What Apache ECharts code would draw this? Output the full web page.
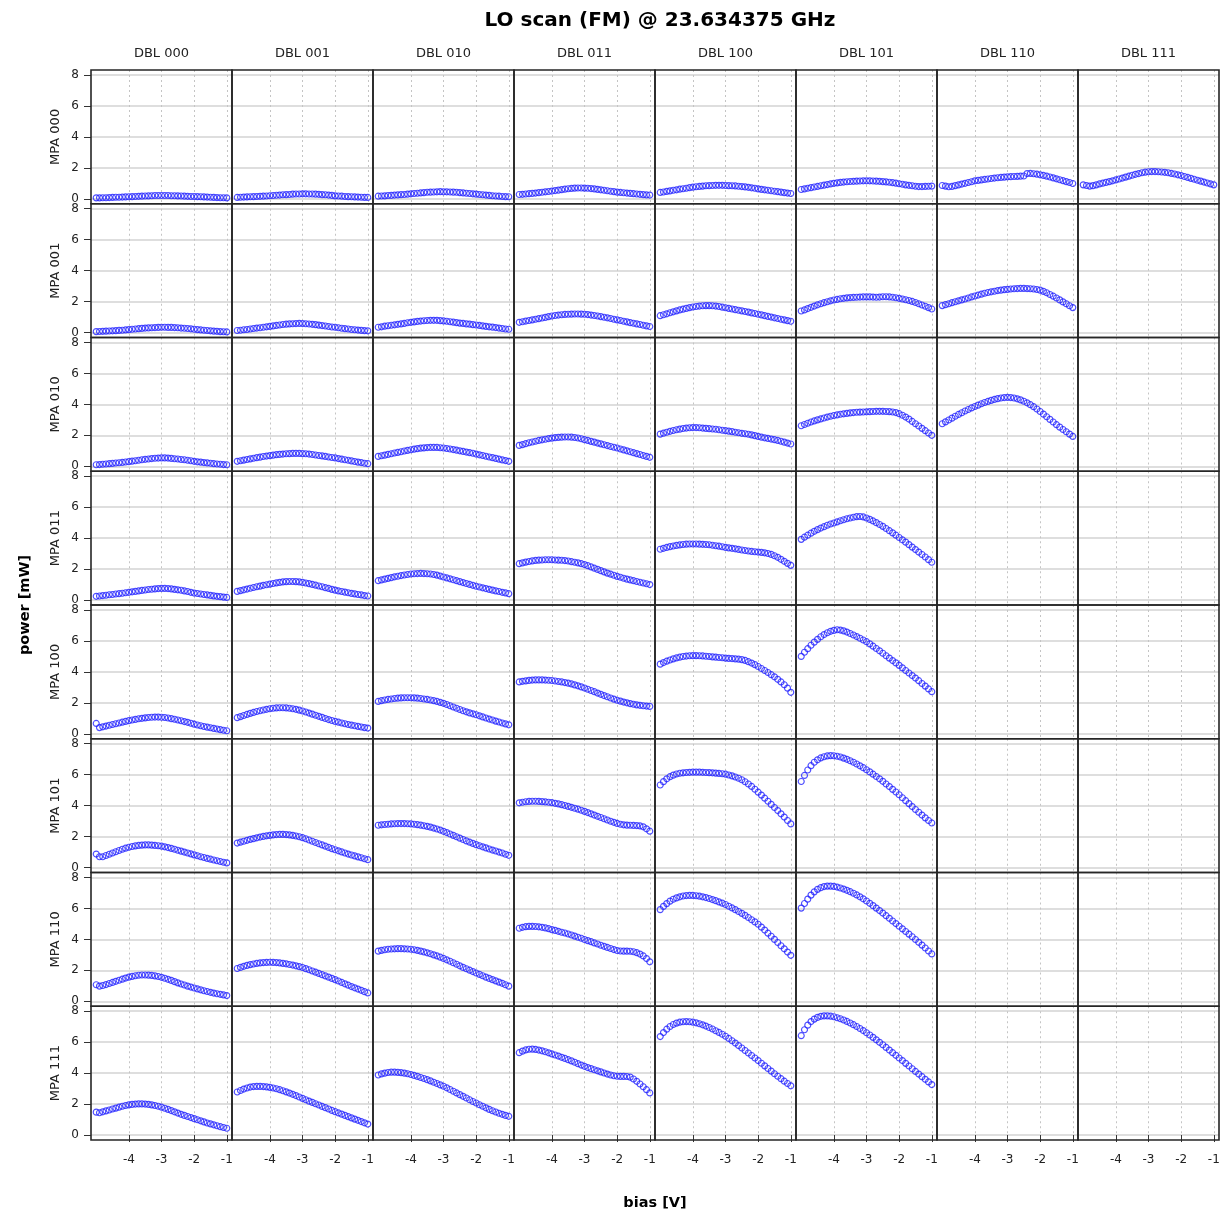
<!DOCTYPE html>
<html>
<head>
<meta charset="utf-8">
<title>LO scan (FM) @ 23.634375 GHz</title>
<script src="https://cdn.jsdelivr.net/npm/echarts@6/dist/echarts.min.js"></script>
<style>
  html, body { margin: 0; padding: 0; background: #ffffff; }
  #chart { width: 1227px; height: 1219px; }
</style>
</head>
<body>
<div id="chart"></div>
<script>
// Bias sweep (V), shared by every panel
const bias = [-5.0,-4.9,-4.8,-4.7,-4.6,-4.5,-4.4,-4.3,-4.2,-4.1,
              -4.0,-3.9,-3.8,-3.7,-3.6,-3.5,-3.4,-3.3,-3.2,-3.1,
              -3.0,-2.9,-2.8,-2.7,-2.6,-2.5,-2.4,-2.3,-2.2,-2.1,
              -2.0,-1.9,-1.8,-1.7,-1.6,-1.5,-1.4,-1.3,-1.2,-1.1,
              -1.0];

const dblLabels = ['DBL 000','DBL 001','DBL 010','DBL 011','DBL 100','DBL 101','DBL 110','DBL 111'];
const mpaLabels = ['MPA 000','MPA 001','MPA 010','MPA 011','MPA 100','MPA 101','MPA 110','MPA 111'];
const xTickValues = [-4, -3, -2, -1];
const yTickValues = [0, 2, 4, 6, 8];

// Output power (mW) per MPA / DBL setting
const m000_d000 = [0.06,0.06,0.07,0.07,0.08,0.09,0.10,0.10,0.11,0.12,0.13,0.14,0.15,0.16,0.17,0.18,0.19,0.20,0.21,0.21,0.21,0.21,0.21,0.20,0.20,0.19,0.18,0.17,0.16,0.15,0.15,0.14,0.13,0.12,0.11,0.10,0.09,0.08,0.07,0.07,0.06];
const m000_d001 = [0.09,0.10,0.11,0.12,0.13,0.14,0.15,0.16,0.17,0.18,0.20,0.21,0.23,0.24,0.26,0.27,0.28,0.30,0.31,0.31,0.32,0.32,0.31,0.31,0.30,0.29,0.27,0.26,0.24,0.22,0.19,0.18,0.17,0.15,0.14,0.13,0.12,0.11,0.10,0.09,0.09];
const m000_d010 = [0.17,0.18,0.19,0.21,0.22,0.24,0.25,0.27,0.28,0.30,0.32,0.34,0.36,0.38,0.40,0.42,0.43,0.44,0.45,0.46,0.45,0.45,0.44,0.43,0.42,0.40,0.38,0.36,0.34,0.32,0.30,0.28,0.26,0.24,0.22,0.20,0.18,0.17,0.15,0.14,0.13];
const m000_d011 = [0.28,0.29,0.31,0.33,0.35,0.37,0.40,0.42,0.45,0.47,0.50,0.53,0.56,0.59,0.62,0.65,0.67,0.69,0.70,0.70,0.69,0.68,0.66,0.64,0.61,0.58,0.55,0.52,0.49,0.46,0.43,0.41,0.39,0.37,0.35,0.33,0.31,0.29,0.27,0.25,0.24];
const m000_d100 = [0.41,0.44,0.48,0.51,0.55,0.58,0.62,0.65,0.68,0.72,0.75,0.78,0.80,0.82,0.84,0.85,0.86,0.87,0.87,0.87,0.86,0.85,0.84,0.83,0.81,0.79,0.77,0.74,0.71,0.68,0.64,0.61,0.58,0.55,0.52,0.49,0.46,0.43,0.40,0.37,0.34];
const m000_d101 = [0.60,0.64,0.68,0.72,0.76,0.80,0.84,0.88,0.92,0.96,1.00,1.03,1.06,1.08,1.10,1.12,1.13,1.14,1.15,1.16,1.16,1.16,1.15,1.14,1.13,1.11,1.09,1.07,1.04,1.01,0.97,0.94,0.90,0.87,0.84,0.81,0.79,0.79,0.80,0.81,0.82];
const m000_d110 = [0.86,0.82,0.78,0.80,0.85,0.90,0.95,1.00,1.05,1.10,1.16,1.19,1.22,1.25,1.28,1.31,1.34,1.36,1.38,1.40,1.42,1.43,1.44,1.45,1.46,1.47,1.63,1.64,1.62,1.59,1.55,1.51,1.46,1.41,1.35,1.29,1.23,1.17,1.11,1.05,0.99];
const m000_d111 = [0.90,0.86,0.82,0.85,0.90,0.96,1.01,1.06,1.11,1.16,1.22,1.28,1.34,1.40,1.46,1.52,1.58,1.63,1.68,1.72,1.75,1.76,1.76,1.75,1.73,1.71,1.68,1.64,1.60,1.55,1.50,1.44,1.38,1.32,1.26,1.20,1.14,1.08,1.02,0.96,0.90];

const m001_d000 = [0.06,0.07,0.08,0.09,0.10,0.11,0.12,0.14,0.15,0.17,0.19,0.21,0.23,0.25,0.27,0.29,0.30,0.31,0.32,0.33,0.34,0.34,0.33,0.33,0.32,0.31,0.29,0.28,0.26,0.24,0.21,0.19,0.17,0.15,0.13,0.11,0.09,0.08,0.06,0.05,0.04];
const m001_d001 = [0.13,0.15,0.18,0.20,0.23,0.26,0.29,0.31,0.34,0.37,0.40,0.43,0.46,0.49,0.52,0.54,0.56,0.57,0.58,0.59,0.58,0.57,0.55,0.53,0.51,0.48,0.45,0.42,0.39,0.36,0.34,0.31,0.28,0.25,0.23,0.20,0.18,0.16,0.14,0.12,0.11];
const m001_d010 = [0.34,0.37,0.41,0.44,0.47,0.50,0.53,0.56,0.59,0.63,0.66,0.69,0.72,0.74,0.76,0.78,0.79,0.79,0.79,0.77,0.75,0.73,0.70,0.67,0.64,0.61,0.59,0.56,0.54,0.51,0.49,0.46,0.43,0.40,0.37,0.35,0.32,0.29,0.26,0.23,0.21];
const m001_d011 = [0.66,0.70,0.74,0.78,0.82,0.86,0.90,0.94,0.98,1.03,1.07,1.10,1.13,1.15,1.17,1.18,1.19,1.20,1.20,1.19,1.18,1.16,1.13,1.10,1.07,1.03,0.99,0.95,0.91,0.86,0.82,0.78,0.73,0.69,0.64,0.60,0.56,0.52,0.47,0.43,0.39];
const m001_d100 = [1.09,1.15,1.21,1.28,1.34,1.40,1.46,1.51,1.56,1.61,1.65,1.68,1.71,1.73,1.74,1.74,1.73,1.71,1.68,1.64,1.60,1.56,1.52,1.48,1.44,1.40,1.36,1.32,1.27,1.23,1.18,1.14,1.09,1.04,1.00,0.95,0.91,0.86,0.82,0.77,0.73];
const m001_d101 = [1.39,1.46,1.55,1.63,1.71,1.79,1.86,1.93,1.99,2.05,2.10,2.14,2.18,2.21,2.24,2.26,2.27,2.28,2.29,2.30,2.30,2.30,2.29,2.28,2.29,2.31,2.31,2.30,2.28,2.25,2.21,2.17,2.12,2.07,2.01,1.94,1.86,1.78,1.70,1.61,1.52];
const m001_d110 = [1.74,1.80,1.86,1.93,1.99,2.05,2.11,2.17,2.23,2.30,2.36,2.42,2.48,2.54,2.59,2.63,2.67,2.71,2.74,2.77,2.79,2.81,2.83,2.84,2.85,2.85,2.84,2.83,2.81,2.78,2.74,2.66,2.57,2.46,2.35,2.23,2.11,1.98,1.86,1.73,1.61];

const m010_d000 = [0.10,0.11,0.13,0.15,0.17,0.19,0.21,0.23,0.25,0.28,0.30,0.33,0.36,0.39,0.42,0.45,0.47,0.50,0.52,0.53,0.54,0.54,0.53,0.51,0.49,0.47,0.44,0.42,0.39,0.36,0.32,0.29,0.27,0.24,0.22,0.20,0.17,0.15,0.13,0.11,0.10];
const m010_d001 = [0.32,0.36,0.40,0.44,0.48,0.52,0.56,0.59,0.63,0.66,0.69,0.72,0.75,0.77,0.79,0.81,0.82,0.83,0.83,0.83,0.82,0.81,0.79,0.76,0.73,0.70,0.67,0.64,0.60,0.57,0.54,0.50,0.46,0.42,0.39,0.35,0.31,0.27,0.24,0.20,0.17];
const m010_d010 = [0.64,0.68,0.72,0.77,0.81,0.86,0.90,0.94,0.99,1.03,1.07,1.11,1.14,1.17,1.19,1.21,1.22,1.22,1.22,1.20,1.18,1.15,1.12,1.08,1.04,1.00,0.96,0.92,0.88,0.84,0.79,0.74,0.70,0.65,0.60,0.56,0.51,0.46,0.41,0.37,0.32];
const m010_d011 = [1.35,1.40,1.46,1.52,1.57,1.62,1.67,1.71,1.75,1.79,1.82,1.85,1.87,1.88,1.89,1.89,1.88,1.86,1.83,1.78,1.72,1.67,1.61,1.56,1.50,1.45,1.39,1.34,1.28,1.23,1.18,1.12,1.06,1.00,0.94,0.88,0.82,0.76,0.70,0.64,0.58];
const m010_d100 = [2.08,2.14,2.20,2.26,2.31,2.36,2.40,2.44,2.47,2.49,2.50,2.50,2.49,2.47,2.45,2.43,2.41,2.39,2.36,2.33,2.30,2.27,2.24,2.20,2.17,2.13,2.10,2.07,2.03,1.98,1.93,1.88,1.84,1.80,1.76,1.72,1.67,1.62,1.56,1.50,1.44];
const m010_d101 = [2.62,2.70,2.78,2.86,2.93,3.00,3.06,3.12,3.18,3.23,3.28,3.32,3.36,3.39,3.42,3.45,3.47,3.49,3.50,3.51,3.52,3.53,3.54,3.55,3.55,3.55,3.54,3.53,3.51,3.47,3.40,3.30,3.18,3.05,2.90,2.75,2.60,2.45,2.30,2.15,2.00];
const m010_d110 = [2.75,2.87,2.99,3.11,3.23,3.35,3.46,3.57,3.67,3.77,3.86,3.95,4.04,4.12,4.19,4.26,4.32,4.37,4.41,4.44,4.45,4.44,4.41,4.36,4.29,4.20,4.10,3.98,3.85,3.70,3.54,3.37,3.20,3.03,2.86,2.69,2.53,2.38,2.23,2.08,1.93];

const m011_d000 = [0.24,0.26,0.29,0.31,0.34,0.36,0.39,0.41,0.44,0.47,0.50,0.53,0.56,0.59,0.62,0.65,0.68,0.70,0.72,0.74,0.75,0.75,0.74,0.72,0.69,0.66,0.63,0.59,0.55,0.50,0.45,0.42,0.39,0.36,0.33,0.30,0.27,0.24,0.22,0.19,0.17];
const m011_d001 = [0.56,0.61,0.66,0.71,0.76,0.81,0.86,0.90,0.95,0.99,1.03,1.07,1.11,1.14,1.17,1.19,1.20,1.20,1.19,1.17,1.14,1.10,1.06,1.01,0.96,0.91,0.86,0.80,0.75,0.69,0.64,0.59,0.55,0.51,0.47,0.43,0.40,0.36,0.33,0.29,0.26];
const m011_d010 = [1.25,1.30,1.35,1.40,1.45,1.50,1.54,1.58,1.62,1.65,1.68,1.70,1.71,1.72,1.71,1.70,1.68,1.65,1.61,1.55,1.49,1.43,1.37,1.31,1.25,1.19,1.13,1.07,1.01,0.95,0.89,0.84,0.79,0.74,0.69,0.64,0.59,0.55,0.50,0.46,0.41];
const m011_d011 = [2.35,2.40,2.45,2.49,2.53,2.56,2.58,2.59,2.60,2.60,2.60,2.59,2.58,2.57,2.55,2.52,2.48,2.44,2.40,2.35,2.29,2.22,2.14,2.06,1.98,1.90,1.82,1.74,1.67,1.60,1.53,1.47,1.41,1.35,1.30,1.25,1.20,1.15,1.10,1.05,1.00];
const m011_d100 = [3.28,3.34,3.40,3.45,3.49,3.53,3.56,3.59,3.61,3.62,3.62,3.62,3.61,3.60,3.59,3.57,3.54,3.51,3.48,3.44,3.40,3.37,3.34,3.31,3.27,3.23,3.20,3.17,3.14,3.12,3.10,3.08,3.05,3.01,2.95,2.86,2.76,2.63,2.50,2.37,2.24];
const m011_d101 = [3.92,4.06,4.19,4.32,4.44,4.55,4.65,4.74,4.83,4.91,4.98,5.05,5.12,5.19,5.25,5.30,5.35,5.39,5.40,5.37,5.30,5.21,5.11,5.00,4.88,4.76,4.62,4.48,4.34,4.19,4.04,3.89,3.74,3.58,3.42,3.26,3.10,2.94,2.78,2.61,2.44];

const m100_d000 = [0.67,0.40,0.45,0.50,0.55,0.60,0.65,0.70,0.75,0.80,0.85,0.89,0.93,0.97,1.00,1.03,1.05,1.07,1.08,1.08,1.07,1.05,1.02,0.98,0.94,0.89,0.84,0.79,0.74,0.68,0.62,0.57,0.52,0.47,0.43,0.39,0.35,0.31,0.27,0.23,0.20];
const m100_d001 = [1.04,1.11,1.18,1.25,1.32,1.38,1.44,1.49,1.54,1.58,1.62,1.65,1.67,1.68,1.68,1.67,1.65,1.62,1.58,1.53,1.47,1.41,1.34,1.27,1.20,1.13,1.06,0.99,0.92,0.86,0.80,0.75,0.70,0.65,0.60,0.56,0.52,0.48,0.44,0.40,0.37];
const m100_d010 = [2.09,2.14,2.18,2.22,2.25,2.28,2.30,2.32,2.33,2.33,2.33,2.32,2.30,2.28,2.25,2.22,2.18,2.14,2.09,2.03,1.97,1.89,1.81,1.73,1.65,1.57,1.49,1.42,1.35,1.29,1.23,1.16,1.09,1.02,0.95,0.89,0.82,0.76,0.70,0.64,0.58];
const m100_d011 = [3.35,3.39,3.42,3.45,3.47,3.48,3.48,3.48,3.47,3.46,3.44,3.41,3.38,3.35,3.31,3.27,3.22,3.16,3.10,3.03,2.96,2.88,2.80,2.72,2.63,2.55,2.47,2.39,2.31,2.24,2.17,2.11,2.05,2.00,1.95,1.91,1.87,1.84,1.81,1.79,1.77];
const m100_d100 = [4.50,4.60,4.69,4.77,4.84,4.90,4.95,4.99,5.02,5.04,5.05,5.05,5.04,5.03,5.01,4.99,4.97,4.95,4.93,4.91,4.89,4.87,4.86,4.84,4.82,4.79,4.74,4.66,4.57,4.47,4.35,4.22,4.09,3.96,3.82,3.68,3.52,3.35,3.17,2.95,2.68];
const m100_d101 = [5.00,5.27,5.50,5.72,5.92,6.10,6.27,6.41,6.53,6.62,6.68,6.72,6.70,6.65,6.57,6.48,6.38,6.28,6.17,6.06,5.95,5.81,5.66,5.51,5.36,5.20,5.04,4.89,4.73,4.58,4.42,4.26,4.09,3.93,3.76,3.60,3.43,3.25,3.08,2.90,2.72];

const m101_d000 = [0.87,0.70,0.70,0.78,0.86,0.94,1.02,1.10,1.18,1.25,1.31,1.36,1.40,1.43,1.45,1.46,1.46,1.45,1.43,1.41,1.38,1.34,1.29,1.24,1.18,1.12,1.06,1.00,0.94,0.88,0.82,0.76,0.70,0.65,0.59,0.54,0.49,0.44,0.39,0.34,0.30];
const m101_d001 = [1.58,1.64,1.70,1.76,1.82,1.87,1.92,1.97,2.01,2.05,2.08,2.11,2.13,2.14,2.14,2.13,2.11,2.08,2.04,1.99,1.93,1.86,1.78,1.70,1.62,1.54,1.46,1.38,1.30,1.22,1.15,1.08,1.01,0.94,0.87,0.81,0.75,0.69,0.63,0.57,0.51];
const m101_d010 = [2.73,2.76,2.78,2.80,2.82,2.83,2.84,2.84,2.84,2.83,2.82,2.80,2.77,2.74,2.70,2.66,2.61,2.55,2.49,2.42,2.34,2.26,2.17,2.08,1.99,1.90,1.81,1.72,1.64,1.56,1.48,1.41,1.34,1.27,1.20,1.13,1.07,1.00,0.94,0.86,0.79];
const m101_d011 = [4.18,4.22,4.25,4.27,4.28,4.28,4.27,4.26,4.24,4.22,4.19,4.15,4.11,4.06,4.01,3.95,3.89,3.83,3.77,3.70,3.63,3.55,3.47,3.39,3.31,3.23,3.15,3.07,2.99,2.92,2.85,2.80,2.76,2.74,2.73,2.72,2.71,2.69,2.63,2.50,2.35];
const m101_d100 = [5.33,5.55,5.73,5.87,5.97,6.04,6.09,6.12,6.14,6.15,6.16,6.16,6.16,6.15,6.14,6.13,6.12,6.10,6.08,6.06,6.03,5.98,5.92,5.85,5.77,5.67,5.54,5.40,5.24,5.06,4.87,4.68,4.48,4.28,4.08,3.88,3.68,3.47,3.26,3.04,2.82];
const m101_d101 = [5.56,5.95,6.30,6.58,6.80,6.96,7.08,7.16,7.21,7.23,7.22,7.19,7.14,7.07,6.99,6.90,6.80,6.69,6.57,6.45,6.32,6.18,6.03,5.88,5.73,5.57,5.40,5.23,5.05,4.88,4.70,4.51,4.32,4.13,3.94,3.75,3.57,3.39,3.21,3.04,2.88];

const m110_d000 = [1.07,0.98,1.02,1.08,1.15,1.22,1.29,1.36,1.43,1.50,1.56,1.61,1.65,1.68,1.70,1.70,1.69,1.67,1.64,1.60,1.55,1.49,1.42,1.35,1.27,1.19,1.12,1.05,0.98,0.92,0.86,0.80,0.74,0.68,0.63,0.58,0.53,0.49,0.45,0.41,0.37];
const m110_d001 = [2.12,2.19,2.26,2.32,2.37,2.41,2.45,2.48,2.50,2.51,2.52,2.51,2.50,2.48,2.45,2.42,2.38,2.34,2.29,2.24,2.18,2.11,2.04,1.96,1.88,1.80,1.72,1.64,1.56,1.48,1.40,1.31,1.22,1.13,1.04,0.95,0.87,0.79,0.71,0.62,0.54];
const m110_d010 = [3.24,3.29,3.33,3.36,3.38,3.39,3.40,3.40,3.39,3.38,3.36,3.33,3.29,3.24,3.19,3.13,3.07,3.00,2.93,2.85,2.77,2.68,2.59,2.49,2.39,2.29,2.19,2.10,2.01,1.92,1.83,1.74,1.65,1.56,1.48,1.40,1.32,1.24,1.16,1.07,0.98];
const m110_d011 = [4.72,4.78,4.82,4.84,4.84,4.83,4.81,4.78,4.74,4.69,4.63,4.58,4.52,4.46,4.41,4.35,4.28,4.21,4.14,4.07,3.99,3.92,3.85,3.77,3.70,3.62,3.55,3.48,3.41,3.34,3.28,3.25,3.24,3.24,3.23,3.20,3.14,3.05,2.93,2.76,2.55];
const m110_d100 = [5.92,6.13,6.31,6.47,6.59,6.68,6.75,6.80,6.83,6.84,6.84,6.82,6.79,6.75,6.70,6.64,6.57,6.50,6.42,6.34,6.25,6.14,6.03,5.92,5.80,5.68,5.55,5.41,5.27,5.13,4.98,4.79,4.60,4.40,4.20,4.00,3.80,3.59,3.39,3.18,2.97];
const m110_d101 = [6.02,6.32,6.60,6.86,7.07,7.23,7.34,7.41,7.44,7.44,7.42,7.38,7.32,7.25,7.17,7.08,6.98,6.87,6.75,6.62,6.48,6.33,6.18,6.02,5.86,5.70,5.53,5.36,5.19,5.02,4.85,4.68,4.51,4.34,4.17,3.99,3.81,3.63,3.44,3.25,3.06];

const m111_d000 = [1.48,1.44,1.50,1.56,1.62,1.68,1.74,1.80,1.86,1.91,1.95,1.98,2.00,2.01,2.01,2.00,1.98,1.95,1.91,1.86,1.80,1.73,1.66,1.58,1.50,1.42,1.34,1.27,1.20,1.13,1.06,0.99,0.92,0.85,0.78,0.72,0.66,0.60,0.54,0.49,0.44];
const m111_d001 = [2.78,2.88,2.97,3.04,3.10,3.13,3.14,3.14,3.13,3.11,3.08,3.04,2.99,2.93,2.86,2.79,2.71,2.63,2.55,2.46,2.37,2.28,2.19,2.11,2.02,1.94,1.85,1.77,1.68,1.59,1.51,1.43,1.35,1.27,1.19,1.11,1.03,0.95,0.87,0.79,0.71];
const m111_d010 = [3.88,3.95,4.00,4.04,4.06,4.06,4.05,4.03,4.00,3.96,3.91,3.85,3.79,3.72,3.65,3.58,3.50,3.41,3.33,3.24,3.15,3.05,2.94,2.83,2.72,2.61,2.50,2.39,2.28,2.17,2.07,1.96,1.86,1.76,1.66,1.57,1.49,1.41,1.34,1.27,1.21];
const m111_d011 = [5.32,5.42,5.50,5.54,5.55,5.53,5.49,5.44,5.38,5.31,5.24,5.17,5.10,5.02,4.95,4.87,4.79,4.70,4.61,4.52,4.44,4.36,4.29,4.22,4.15,4.08,4.01,3.94,3.88,3.83,3.80,3.79,3.79,3.78,3.74,3.62,3.47,3.30,3.12,2.93,2.72];
const m111_d100 = [6.36,6.62,6.84,7.01,7.14,7.23,7.29,7.32,7.33,7.32,7.29,7.25,7.19,7.12,7.04,6.95,6.85,6.74,6.63,6.51,6.38,6.24,6.09,5.94,5.78,5.62,5.46,5.30,5.14,4.98,4.81,4.64,4.47,4.30,4.13,3.96,3.80,3.64,3.48,3.33,3.18];
const m111_d101 = [6.42,6.80,7.10,7.33,7.49,7.60,7.67,7.70,7.70,7.68,7.64,7.58,7.51,7.43,7.34,7.24,7.13,7.01,6.88,6.75,6.61,6.46,6.31,6.15,5.99,5.83,5.66,5.49,5.32,5.15,4.98,4.81,4.63,4.46,4.28,4.11,3.94,3.77,3.60,3.43,3.26];

// Panel table: rows = MPA setting, columns = DBL setting (null = not measured)
const panelTable = [
  [m000_d000, m000_d001, m000_d010, m000_d011, m000_d100, m000_d101, m000_d110, m000_d111],
  [m001_d000, m001_d001, m001_d010, m001_d011, m001_d100, m001_d101, m001_d110, null],
  [m010_d000, m010_d001, m010_d010, m010_d011, m010_d100, m010_d101, m010_d110, null],
  [m011_d000, m011_d001, m011_d010, m011_d011, m011_d100, m011_d101, null, null],
  [m100_d000, m100_d001, m100_d010, m100_d011, m100_d100, m100_d101, null, null],
  [m101_d000, m101_d001, m101_d010, m101_d011, m101_d100, m101_d101, null, null],
  [m110_d000, m110_d001, m110_d010, m110_d011, m110_d100, m110_d101, null, null],
  [m111_d000, m111_d001, m111_d010, m111_d011, m111_d100, m111_d101, null, null]
];

// Lattice layout
const FONT = '"DejaVu Sans", "Liberation Sans", Arial, sans-serif';
const PANEL_LEFT = 91, PANEL_TOP = 70, PANEL_W = 141, PANEL_H = 133.75;
const NROW = 8, NCOL = 8;
const X_RANGE = [-5.16, -0.84];
const Y_RANGE = [-0.32, 8.32];
const POINT_COLOR = '#2222ff';

const grids = [], xAxes = [], yAxes = [], series = [], graphics = [];

for (let r = 0; r < NROW; r++) {
  for (let c = 0; c < NCOL; c++) {
    const idx = r * NCOL + c;
    grids.push({
      left: PANEL_LEFT + c * PANEL_W,
      top: PANEL_TOP + r * PANEL_H,
      width: PANEL_W,
      height: PANEL_H,
      show: true,
      z: 5,
      backgroundColor: 'transparent',
      borderColor: '#262626',
      borderWidth: 1.6
    });
    const bottomRow = r === NROW - 1;
    const firstCol = c === 0;
    xAxes.push({
      gridIndex: idx,
      type: 'value',
      min: X_RANGE[0],
      max: X_RANGE[1],
      splitNumber: 4,
      axisLine: { show: false },
      axisTick: {
        show: bottomRow,
        customValues: xTickValues,
        length: 7,
        lineStyle: { color: '#333', width: 1 }
      },
      axisLabel: {
        show: bottomRow,
        customValues: xTickValues,
        fontFamily: FONT,
        fontSize: 12,
        color: '#222',
        margin: 14
      },
      splitLine: {
        show: true,
        showMinLine: true,
        showMaxLine: true,
        lineStyle: { color: '#c4c4c4', width: 1, type: [2, 3] }
      }
    });
    yAxes.push({
      gridIndex: idx,
      type: 'value',
      min: Y_RANGE[0],
      max: Y_RANGE[1],
      splitNumber: 8,
      name: firstCol ? mpaLabels[r] : '',
      nameLocation: 'middle',
      nameRotate: 90,
      nameGap: 29,
      nameTextStyle: { fontFamily: FONT, fontSize: 13, color: '#222' },
      axisLine: { show: false },
      axisTick: {
        show: firstCol,
        customValues: yTickValues,
        length: 7,
        lineStyle: { color: '#333', width: 1 }
      },
      axisLabel: {
        show: firstCol,
        customValues: yTickValues,
        fontFamily: FONT,
        fontSize: 12,
        color: '#222',
        margin: 12
      },
      splitLine: {
        show: true,
        showMinLine: true,
        showMaxLine: true,
        lineStyle: { color: '#d3d3d3', width: 1.6, type: 'solid' }
      }
    });
    const values = panelTable[r][c];
    if (values) {
      series.push({
        type: 'scatter',
        name: mpaLabels[r] + ' / ' + dblLabels[c],
        xAxisIndex: idx,
        yAxisIndex: idx,
        data: bias.map((b, i) => [b, values[i]]),
        symbol: 'circle',
        symbolSize: 6,
        itemStyle: { color: 'rgba(0,0,0,0)', borderColor: POINT_COLOR, borderWidth: 1.15 },
        z: 3,
        silent: true,
        animation: false
      });
    }
  }
}

// Strip labels above each column
dblLabels.forEach((label, c) => {
  graphics.push({
    type: 'text',
    x: PANEL_LEFT + c * PANEL_W + PANEL_W / 2,
    y: 54,
    style: {
      text: label,
      fill: '#222',
      font: '13px ' + FONT,
      textAlign: 'center',
      textVerticalAlign: 'middle'
    }
  });
});

// Outer axis titles
graphics.push({
  type: 'text',
  x: 25,
  y: PANEL_TOP + NROW * PANEL_H / 2,
  rotation: Math.PI / 2,
  style: {
    text: 'power [mW]',
    fill: '#000',
    font: 'bold 14.5px ' + FONT,
    textAlign: 'center',
    textVerticalAlign: 'middle'
  }
});
graphics.push({
  type: 'text',
  x: PANEL_LEFT + NCOL * PANEL_W / 2,
  y: 1203,
  style: {
    text: 'bias [V]',
    fill: '#000',
    font: 'bold 14.5px ' + FONT,
    textAlign: 'center',
    textVerticalAlign: 'middle'
  }
});

const chart = echarts.init(document.getElementById('chart'), null, { renderer: 'canvas' });
chart.setOption({
  animation: false,
  backgroundColor: '#ffffff',
  title: {
    text: 'LO scan (FM) @ 23.634375 GHz',
    left: PANEL_LEFT + NCOL * PANEL_W / 2,
    textAlign: 'center',
    top: 6,
    textStyle: { fontFamily: FONT, fontSize: 20, fontWeight: 'bold', color: '#000' }
  },
  grid: grids,
  xAxis: xAxes,
  yAxis: yAxes,
  series: series,
  graphic: { elements: graphics }
});
</script>
</body>
</html>
